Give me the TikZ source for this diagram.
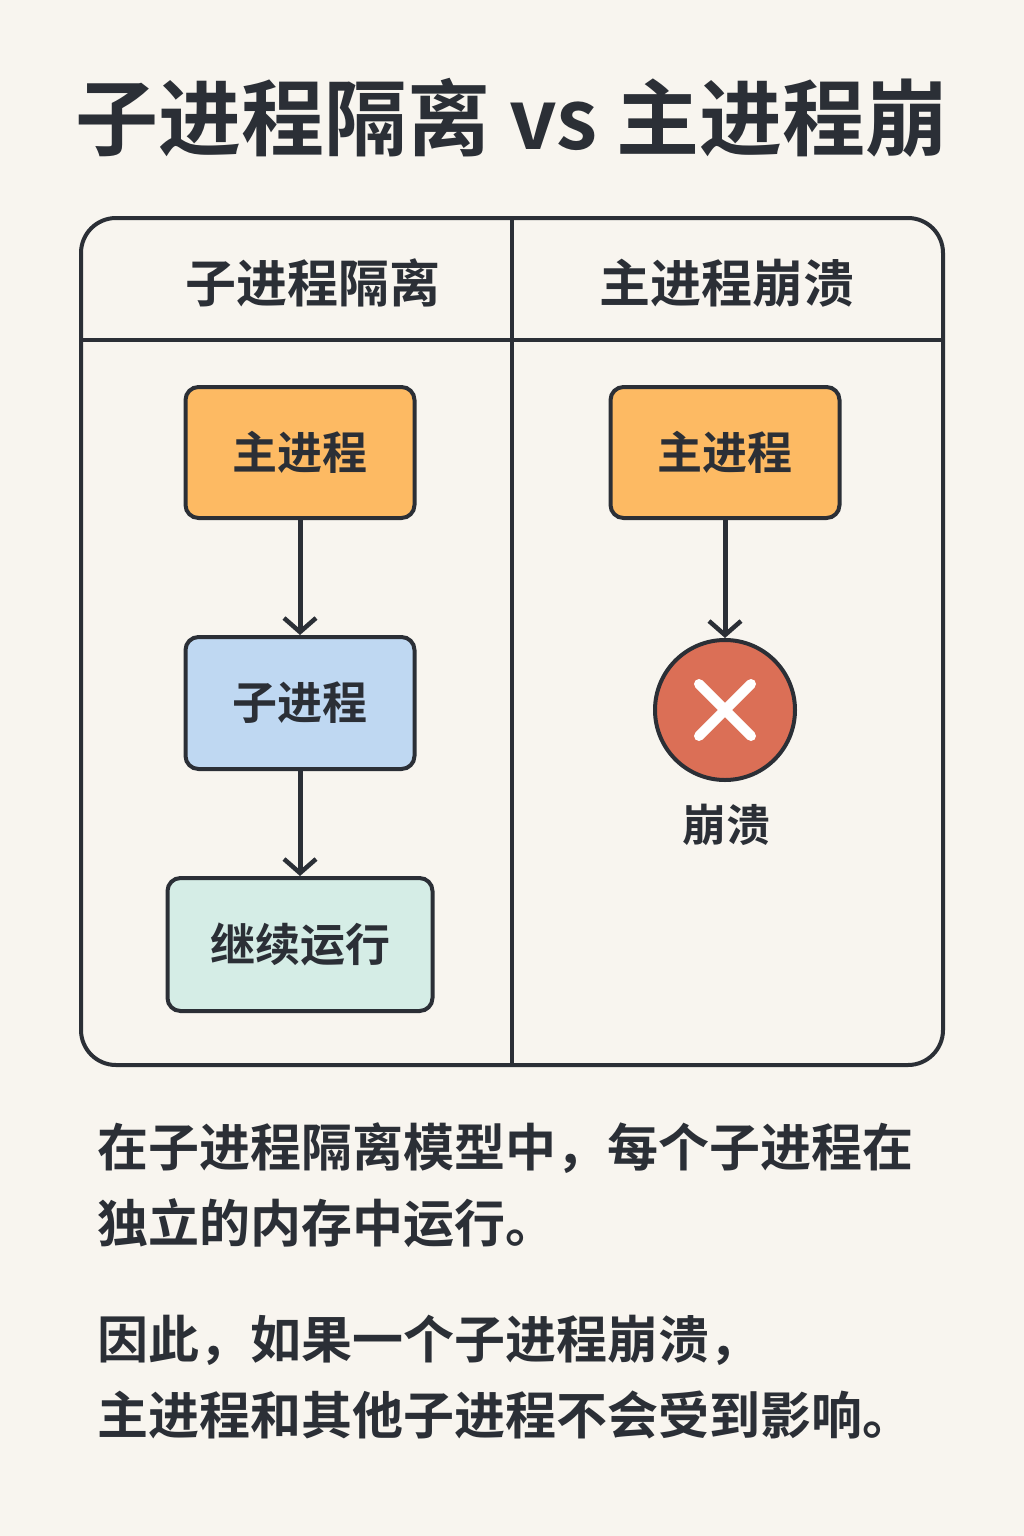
\documentclass[tikz,border=0pt]{standalone}
\usepackage{fontspec}
\setmainfont{Noto Sans CJK SC}[BoldFont={Noto Sans CJK SC Bold}]
\usetikzlibrary{arrows.meta}
\definecolor{bg}{HTML}{F8F5EF}
\definecolor{ink}{HTML}{2B2F36}
\definecolor{orangebox}{HTML}{FDBA63}
\definecolor{bluebox}{HTML}{BFD8F2}
\definecolor{greenbox}{HTML}{D5EDE6}
\definecolor{redcirc}{HTML}{DB6F56}
\tikzset{
  procbox/.style={draw=ink, line width=4pt, rounded corners=13pt, inner sep=0pt, text=ink, font=\fontsize{45}{50}\selectfont\bfseries},
  conn/.style={draw=ink, line width=5pt, -{Straight Barb[length=14pt,width=32pt,line width=4.5pt]}},
  hdr/.style={text=ink, font=\fontsize{51}{56}\selectfont\bfseries},
  para/.style={text=ink, anchor=west, inner sep=0pt, font=\fontsize{51}{56}\selectfont\bfseries}
}
\begin{document}
\begin{tikzpicture}[x=1pt,y=-1pt]
\fill[bg] (0,0) rectangle (1024,1536);
\useasboundingbox (0,0) rectangle (1024,1536);
% title
\node[text=ink, font=\fontsize{83}{92}\selectfont\bfseries] (title) at (512,118) {子进程隔离 vs 主进程崩};
% outer frame
\draw[ink, line width=4pt, rounded corners=35pt] (81,218) rectangle (943,1065);
\draw[ink, line width=4pt] (512,218) -- (512,1065);
\draw[ink, line width=4pt] (81,340) -- (943,340);
\node[hdr] (hl) at (313,283) {子进程隔离};
\node[hdr] (hr) at (727,283) {主进程崩溃};
% left column
\node[procbox, fill=orangebox, minimum width=229pt, minimum height=131pt] (lmain) at (300,452.5) {主进程};
\node[procbox, fill=bluebox, minimum width=229pt, minimum height=132pt] (lchild) at (300,703) {子进程};
\node[procbox, fill=greenbox, minimum width=265pt, minimum height=133pt] (lcont) at (300,944.5) {继续运行};
\draw[conn] (lmain) -- (lchild);
\draw[conn] (lchild) -- (lcont);
% right column
\node[procbox, fill=orangebox, minimum width=229pt, minimum height=131pt] (rmain) at (725,452.5) {主进程};
\node[circle, draw=ink, line width=4pt, fill=redcirc, minimum size=140pt, inner sep=0pt] (crash) at (725,710) {};
\draw[white, line width=10pt, line cap=round] ([shift={(-26,-26)}]crash.center) -- ([shift={(26,26)}]crash.center);
\draw[white, line width=10pt, line cap=round] ([shift={(-26,26)}]crash.center) -- ([shift={(26,-26)}]crash.center);
\draw[conn] (rmain) -- (crash);
\node[text=ink, font=\fontsize{44}{50}\selectfont\bfseries] (crashlbl) at (726,825) {崩溃};
% paragraphs
\node[para] (p1a) at (97,1148) {在子进程隔离模型中，每个子进程在};
\node[para] (p1b) at (97,1223) {独立的内存中运行。};
\node[para] (p2a) at (97,1340) {因此，如果一个子进程崩溃，};
\node[para] (p2b) at (97,1415) {主进程和其他子进程不会受到影响。};
\end{tikzpicture}
\end{document}
